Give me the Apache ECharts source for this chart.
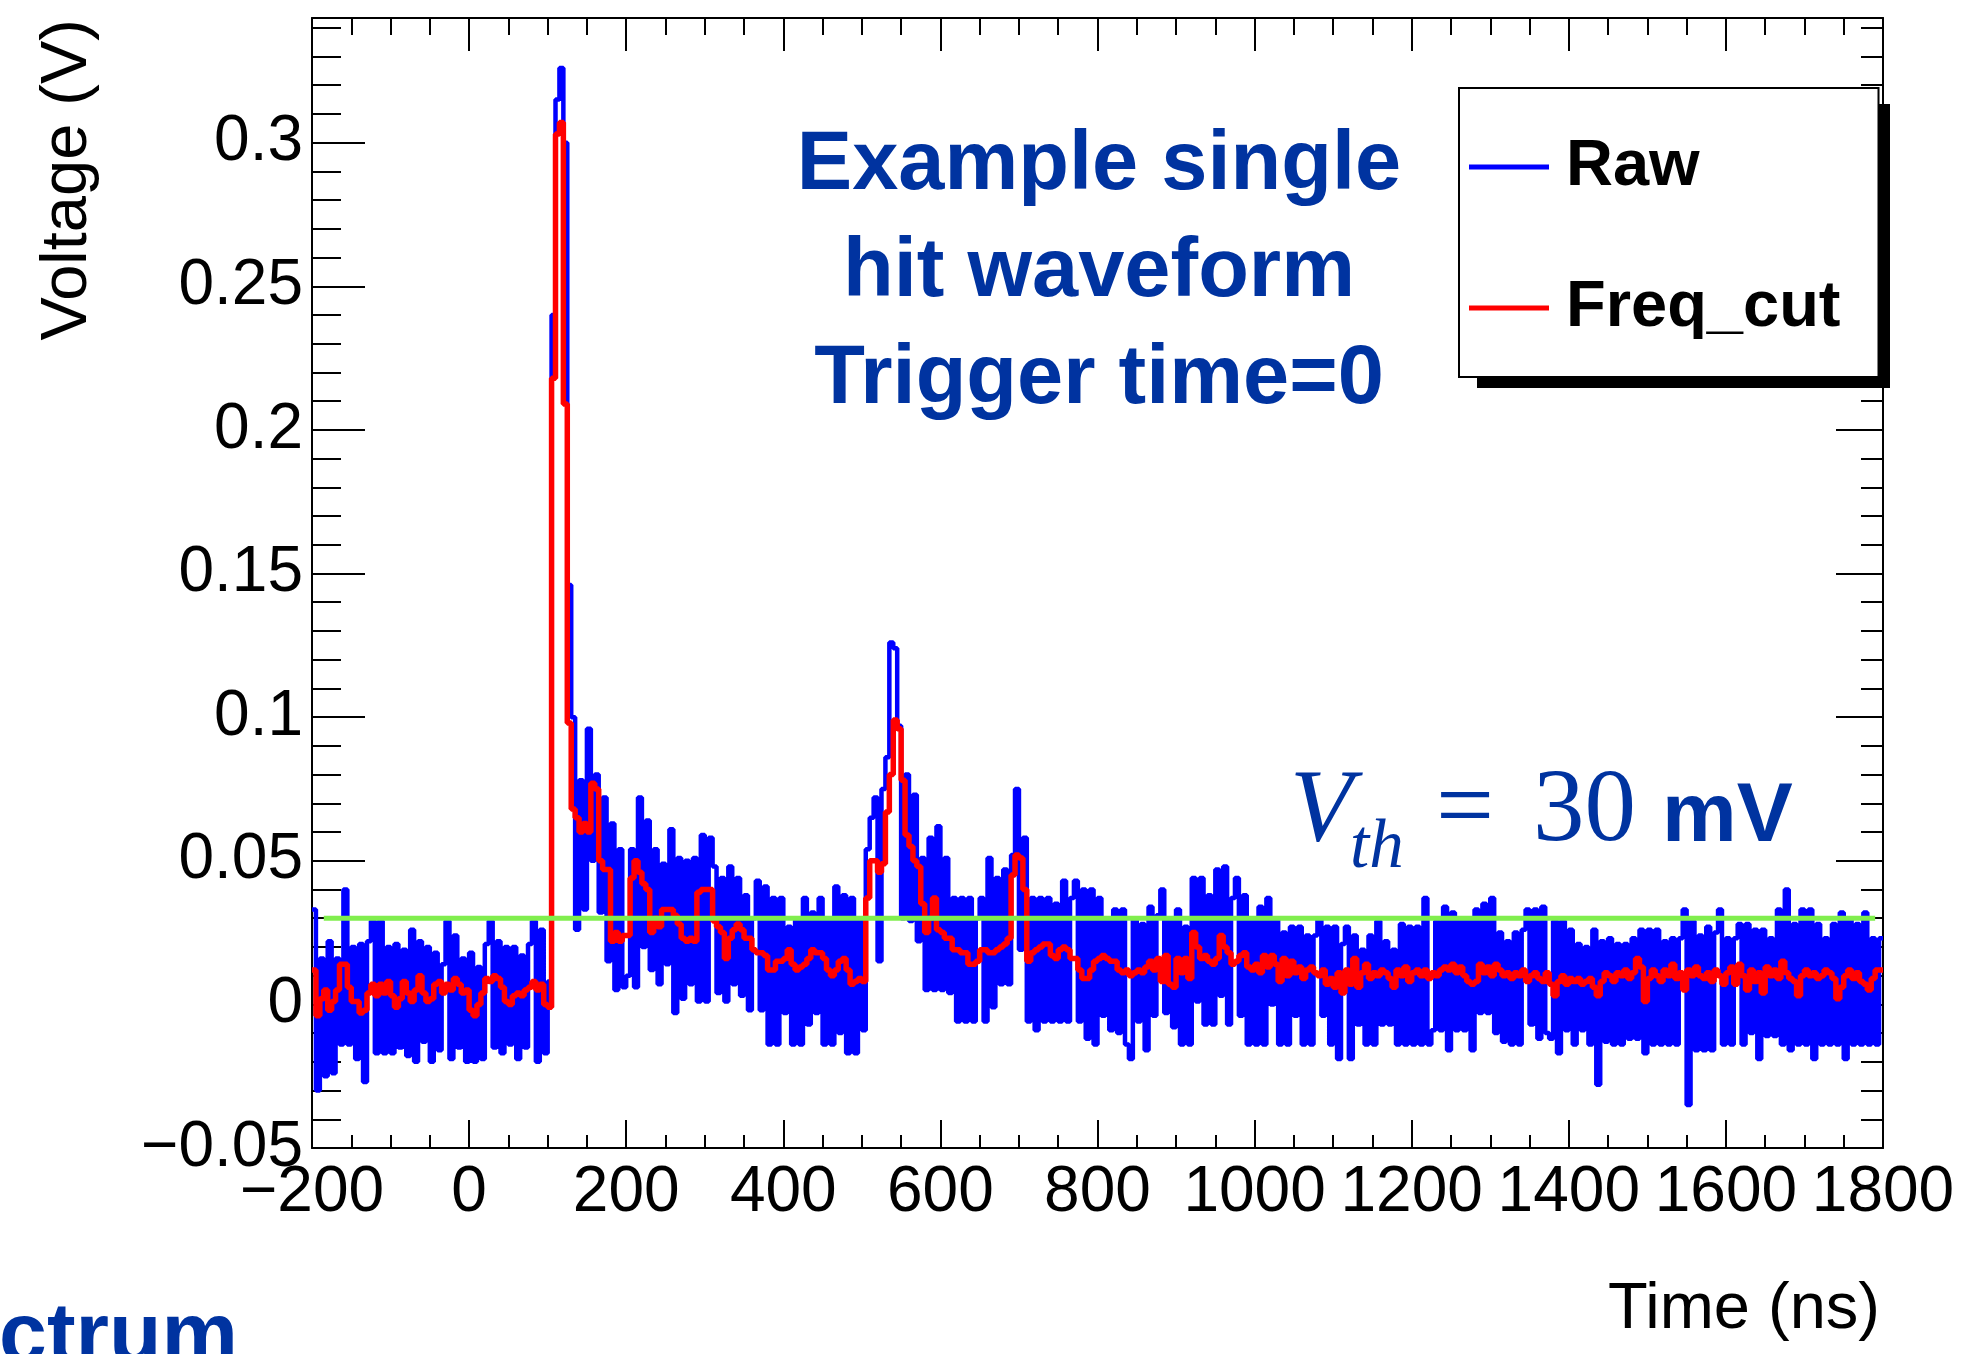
<!DOCTYPE html>
<html>
<head>
<meta charset="utf-8">
<script src="https://cdn.jsdelivr.net/npm/echarts@6/dist/echarts.min.js"></script>
<style>
html,body{margin:0;padding:0;background:#ffffff;}
#chart{width:1972px;height:1354px;}
</style>
</head>
<body>
<div id="chart"></div>
<script>
// ---- histogram binning (time in ns) ----
const binStart = -200;
const binWidth = 5;

// ---- Raw waveform (V), one value per 5 ns bin ----
const rawVoltage = [
 0.033,-0.030,0.016,-0.025,0.022,-0.024,0.016,-0.014,0.040,-0.014,0.020,-0.019,0.021,-0.027,0.022,0.029,-0.017,0.029,-0.017,0.020,
 -0.017,0.021,-0.015,0.019,-0.018,0.026,-0.020,0.022,-0.013,0.020,-0.020,0.018,-0.016,0.014,0.029,-0.019,0.024,-0.015,0.016,-0.020,
 0.018,-0.020,0.013,-0.019,0.021,0.029,-0.015,0.022,-0.017,0.020,-0.014,0.020,-0.019,0.017,-0.015,0.021,0.029,-0.020,0.026,-0.017,
 0.008,0.240,0.315,0.326,0.300,0.146,0.100,0.026,0.078,0.033,0.096,0.050,0.080,0.032,0.072,0.015,0.063,0.005,0.054,0.006,
 0.010,0.054,0.006,0.072,0.020,0.064,0.012,0.054,0.007,0.049,0.014,0.061,-0.003,0.051,0.002,0.050,0.007,0.051,0.001,0.059,
 0.001,0.058,0.048,0.004,0.044,0.001,0.048,0.007,0.044,0.003,0.038,-0.002,0.030,0.043,-0.002,0.041,-0.014,0.037,-0.014,0.037,
 -0.003,0.027,-0.014,0.030,-0.014,0.037,-0.007,0.032,-0.003,0.037,-0.014,0.030,-0.014,0.041,-0.010,0.038,-0.017,0.037,-0.017,0.030,
 -0.009,0.054,0.065,0.072,0.015,0.075,0.086,0.126,0.124,0.097,0.030,0.080,0.029,0.073,0.022,0.051,0.005,0.058,0.005,0.062,
 0.005,0.051,0.004,0.037,-0.006,0.037,-0.006,0.037,-0.006,0.030,0.037,-0.006,0.051,-0.001,0.044,0.007,0.047,0.007,0.052,0.075,
 0.019,0.058,-0.006,0.037,-0.009,0.037,-0.006,0.037,-0.006,0.035,-0.006,0.043,-0.006,0.037,0.043,-0.006,0.040,-0.012,0.040,-0.014,
 0.037,-0.004,0.030,-0.009,0.033,-0.010,0.033,-0.014,-0.019,0.030,-0.006,0.028,-0.016,0.034,-0.004,0.031,0.040,-0.003,0.030,-0.008,
 0.033,-0.014,0.027,-0.014,0.044,0.001,0.044,-0.007,0.038,-0.007,0.047,0.003,0.048,-0.007,0.037,0.044,-0.004,0.038,-0.014,0.030,
 -0.014,0.034,-0.014,0.037,0.000,0.030,-0.014,0.025,-0.014,0.027,-0.004,0.027,-0.014,0.024,-0.014,0.024,0.030,-0.004,0.027,-0.014,
 0.027,-0.019,0.021,0.027,-0.019,0.024,-0.007,0.019,-0.014,0.024,-0.014,0.029,-0.007,0.022,-0.007,0.019,-0.014,0.028,-0.014,0.027,
 -0.014,0.027,-0.014,0.037,-0.014,-0.009,0.029,-0.009,0.034,-0.016,0.032,-0.009,0.030,-0.009,0.030,-0.016,0.033,-0.003,0.035,-0.003,
 0.037,-0.010,0.025,-0.013,0.022,-0.014,0.025,-0.014,0.026,0.033,-0.007,0.033,-0.012,0.034,-0.010,-0.012,0.029,-0.017,0.029,-0.009,
 0.026,-0.014,0.021,-0.009,0.020,-0.014,0.026,-0.028,0.022,-0.013,0.023,-0.014,0.021,-0.014,0.021,-0.012,0.023,-0.012,0.026,-0.017,
 0.026,-0.014,0.026,-0.014,0.022,-0.014,0.023,-0.014,0.023,0.033,-0.035,0.029,-0.016,0.024,-0.016,0.027,-0.016,0.025,0.033,-0.014,
 0.023,-0.014,0.023,0.028,-0.014,0.028,-0.010,0.026,-0.019,0.026,-0.011,0.023,-0.011,0.033,-0.014,0.040,-0.016,0.028,-0.014,0.033,
 -0.014,0.033,-0.019,0.028,-0.014,0.023,-0.014,0.028,-0.014,0.032,-0.019,0.030,-0.014,0.028,-0.014,0.032,-0.014,0.023,-0.014,0.023
];

// ---- Frequency-cut waveform (V), one value per 5 ns bin ----
const freqCutVoltage = [
 0.012,-0.004,0.002,0.005,-0.002,0.001,0.005,0.014,0.014,0.006,0.001,0.001,-0.003,-0.002,0.004,0.007,0.003,0.007,0.004,0.008,
 0.003,-0.001,0.002,0.008,0.004,0.001,0.005,0.010,0.004,0.001,0.002,0.007,0.008,0.004,0.007,0.005,0.009,0.007,0.004,0.005,
 -0.002,-0.004,0.000,0.004,0.009,0.008,0.010,0.009,0.006,0.001,0.000,0.003,0.004,0.003,0.005,0.006,0.008,0.005,0.007,0.000,
 -0.001,0.218,0.303,0.307,0.209,0.098,0.068,0.065,0.060,0.063,0.060,0.077,0.075,0.050,0.047,0.047,0.022,0.025,0.022,0.024,
 0.024,0.044,0.050,0.046,0.042,0.040,0.025,0.030,0.027,0.033,0.033,0.033,0.031,0.028,0.023,0.022,0.023,0.022,0.039,0.040,
 0.040,0.040,0.029,0.027,0.025,0.016,0.023,0.026,0.028,0.026,0.023,0.023,0.019,0.018,0.018,0.017,0.012,0.012,0.015,0.015,
 0.016,0.019,0.014,0.012,0.013,0.014,0.016,0.019,0.018,0.018,0.016,0.012,0.010,0.012,0.015,0.016,0.012,0.007,0.008,0.009,
 0.008,0.037,0.050,0.050,0.046,0.049,0.067,0.080,0.099,0.096,0.078,0.059,0.055,0.050,0.048,0.035,0.025,0.030,0.037,0.026,
 0.025,0.023,0.023,0.019,0.019,0.018,0.018,0.014,0.014,0.015,0.019,0.019,0.018,0.018,0.019,0.020,0.021,0.023,0.045,0.052,
 0.051,0.040,0.015,0.018,0.019,0.020,0.021,0.021,0.017,0.016,0.019,0.020,0.019,0.016,0.016,0.012,0.009,0.009,0.012,0.015,
 0.016,0.017,0.016,0.015,0.015,0.012,0.011,0.012,0.010,0.011,0.012,0.011,0.013,0.015,0.012,0.016,0.008,0.017,0.007,0.006,
 0.016,0.011,0.016,0.009,0.025,0.020,0.016,0.017,0.015,0.014,0.016,0.024,0.020,0.018,0.014,0.015,0.017,0.018,0.013,0.012,
 0.014,0.011,0.017,0.013,0.017,0.014,0.008,0.016,0.010,0.015,0.011,0.013,0.009,0.012,0.013,0.011,0.010,0.012,0.007,0.009,
 0.006,0.011,0.004,0.012,0.007,0.016,0.006,0.011,0.014,0.009,0.011,0.010,0.012,0.011,0.009,0.006,0.012,0.010,0.013,0.008,
 0.011,0.012,0.010,0.012,0.009,0.011,0.010,0.012,0.013,0.012,0.014,0.011,0.013,0.010,0.008,0.007,0.008,0.014,0.011,0.013,
 0.010,0.014,0.012,0.010,0.011,0.009,0.011,0.010,0.012,0.008,0.010,0.011,0.009,0.008,0.011,0.007,0.003,0.008,0.010,0.007,
 0.009,0.008,0.009,0.007,0.008,0.009,0.006,0.003,0.008,0.011,0.010,0.008,0.011,0.010,0.012,0.009,0.011,0.016,0.013,0.001,
 0.009,0.012,0.010,0.008,0.012,0.010,0.014,0.009,0.011,0.005,0.012,0.010,0.013,0.010,0.009,0.011,0.008,0.012,0.010,0.007,
 0.011,0.013,0.007,0.014,0.010,0.005,0.012,0.008,0.011,0.004,0.013,0.010,0.012,0.009,0.015,0.011,0.009,0.008,0.003,0.010,
 0.012,0.010,0.011,0.009,0.010,0.012,0.011,0.009,0.002,0.006,0.010,0.012,0.009,0.011,0.008,0.007,0.005,0.009,0.012,0.012
];

// ---- threshold line ----
const thresholdVoltage = 0.03;
const thresholdTimes = [-185, 1790];

// ---- axes ----
const xMin = -200, xMax = 1800, xStep = 200;
const yMin = -0.05, yMax = 0.3434;
const yMajorTicks = [-0.05, 0, 0.05, 0.1, 0.15, 0.2, 0.25, 0.3];
const yMinorTicks = [-0.04,-0.03,-0.02,-0.01,0.01,0.02,0.03,0.04,0.06,0.07,0.08,0.09,0.11,0.12,0.13,0.14,
  0.16,0.17,0.18,0.19,0.21,0.22,0.23,0.24,0.26,0.27,0.28,0.29,0.31,0.32,0.33,0.34];

// ---- texts ----
const seriesNames = ['Raw', 'Freq_cut'];
const annotationLines = ['Example single', 'hit waveform', 'Trigger time=0'];
const xTitle = 'Time (ns)';
const yTitle = 'Voltage (V)';

function toSteps(values) {
  const pts = values.map((v, i) => [binStart + i * binWidth, v]);
  pts.push([binStart + values.length * binWidth, values[values.length - 1]]);
  return pts;
}
function fmt(v) { return String(v).replace('-', '\u2212'); }

const SANS = '"Liberation Sans", Arial, Helvetica, sans-serif';
const SERIF = '"Liberation Serif", "Times New Roman", serif';
const BLUE_TEXT = '#0033a0';
const black = { color: '#000', width: 2 };

const chart = echarts.init(document.getElementById('chart'), null, { renderer: 'canvas' });

function yAx(pos, ticks, len, showLine, showLabel) {
  return {
    type: 'value', position: pos, min: yMin, max: yMax, offset: 0,
    axisLine: { show: showLine, onZero: false, lineStyle: black },
    axisTick: { show: true, inside: true, length: len, lineStyle: black, customValues: ticks },
    minorTick: { show: false },
    splitLine: { show: false },
    axisLabel: showLabel ? { show: true, customValues: ticks, margin: 9, fontSize: 64, fontFamily: SANS, color: '#000', formatter: fmt } : { show: false }
  };
}

chart.setOption({
  animation: false,
  backgroundColor: '#ffffff',
  grid: { left: 312, top: 18, width: 1571, height: 1130, containLabel: false },
  xAxis: [
    {
      type: 'value', position: 'bottom', min: xMin, max: xMax, interval: xStep,
      axisLine: { show: true, onZero: false, lineStyle: black },
      axisTick: { show: true, inside: true, length: 28, lineStyle: black },
      minorTick: { show: true, splitNumber: 4, length: 13, lineStyle: black },
      splitLine: { show: false }, minorSplitLine: { show: false },
      axisLabel: { show: true, margin: 13, fontSize: 64, fontFamily: SANS, color: '#000', formatter: fmt, hideOverlap: false }
    },
    {
      type: 'value', position: 'top', min: xMin, max: xMax, interval: xStep,
      axisLine: { show: true, onZero: false, lineStyle: black },
      axisTick: { show: true, inside: true, length: 33, lineStyle: black },
      minorTick: { show: true, splitNumber: 4, length: 17, lineStyle: black },
      splitLine: { show: false },
      axisLabel: { show: false }
    }
  ],
  yAxis: [
    yAx('left', yMajorTicks, 53, true, true),
    yAx('left', yMinorTicks, 29, false, false),
    yAx('right', yMajorTicks, 47, true, false),
    yAx('right', yMinorTicks, 22, false, false)
  ],
  legend: {
    data: seriesNames,
    orient: 'vertical',
    left: 1459, top: 88,
    padding: [44, 38, 34, 10],
    itemGap: 71,
    icon: 'rect',
    itemWidth: 80, itemHeight: 5,
    selectedMode: false,
    backgroundColor: '#ffffff',
    borderColor: '#000', borderWidth: 2,
    textStyle: { fontSize: 65, fontWeight: 'bold', fontFamily: SANS, color: '#000', lineHeight: 70, padding: [0, 0, 0, 12] }
  },
  series: [
    {
      name: seriesNames[0], type: 'line', step: 'end', xAxisIndex: 0, yAxisIndex: 0,
      data: toSteps(rawVoltage), symbol: 'none', showSymbol: false,
      lineStyle: { color: '#0000ff', width: 4.5 }, itemStyle: { color: '#0000ff' }, z: 2
    },
    {
      name: seriesNames[1], type: 'line', step: 'end', xAxisIndex: 0, yAxisIndex: 0,
      data: toSteps(freqCutVoltage), symbol: 'none', showSymbol: false,
      lineStyle: { color: '#ff0000', width: 5.5 }, itemStyle: { color: '#ff0000' }, z: 3
    },
    {
      name: 'threshold', type: 'line', xAxisIndex: 0, yAxisIndex: 0, silent: true,
      data: thresholdTimes.map(t => [t, thresholdVoltage]), symbol: 'none',
      lineStyle: { color: '#80ee4e', width: 5 }, itemStyle: { color: '#80ee4e' }, z: 4
    }
  ],
  graphic: [
    // legend drop shadow (ROOT style), drawn under the legend box
    { type: 'rect', z: 1, shape: { x: 1477, y: 104, width: 413, height: 284 }, style: { fill: '#000' } },
    { type: 'text', x: 1099, y: 273, z: 10,
      style: { text: annotationLines.join('\n'), font: 'bold 83px ' + SANS, fill: BLUE_TEXT, align: 'center', verticalAlign: 'middle', lineHeight: 107 } },
    { type: 'text', x: 1290, y: 813, z: 10,
      style: { text: 'V', font: 'italic 103px ' + SERIF, fill: BLUE_TEXT, align: 'left', verticalAlign: 'middle' } },
    { type: 'text', x: 1350, y: 849, z: 10,
      style: { text: 'th', font: 'italic 69px ' + SERIF, fill: BLUE_TEXT, align: 'left', verticalAlign: 'middle' } },
    { type: 'text', x: 1436, y: 813, z: 10,
      style: { text: '=', font: '103px ' + SERIF, fill: BLUE_TEXT, align: 'left', verticalAlign: 'middle' } },
    { type: 'text', x: 1533, y: 813, z: 10,
      style: { text: '30', font: '103px ' + SERIF, fill: BLUE_TEXT, align: 'left', verticalAlign: 'middle' } },
    { type: 'text', x: 1662, y: 818, z: 10,
      style: { text: 'mV', font: 'bold 84px ' + SANS, fill: BLUE_TEXT, align: 'left', verticalAlign: 'middle' } },
    { type: 'text', x: 1880, y: 1310, z: 10,
      style: { text: xTitle, font: '65px ' + SANS, fill: '#000', align: 'right', verticalAlign: 'middle' } },
    { type: 'text', x: 68, y: 19, rotation: Math.PI / 2, z: 10,
      style: { text: yTitle, font: '65px ' + SANS, fill: '#000', align: 'right', verticalAlign: 'middle' } },
    { type: 'text', x: 238, y: 1338, z: 10,
      style: { text: 'ctrum', font: 'bold 86px ' + SANS, fill: BLUE_TEXT, align: 'right', verticalAlign: 'middle' } }
  ]
});
</script>
</body>
</html>
